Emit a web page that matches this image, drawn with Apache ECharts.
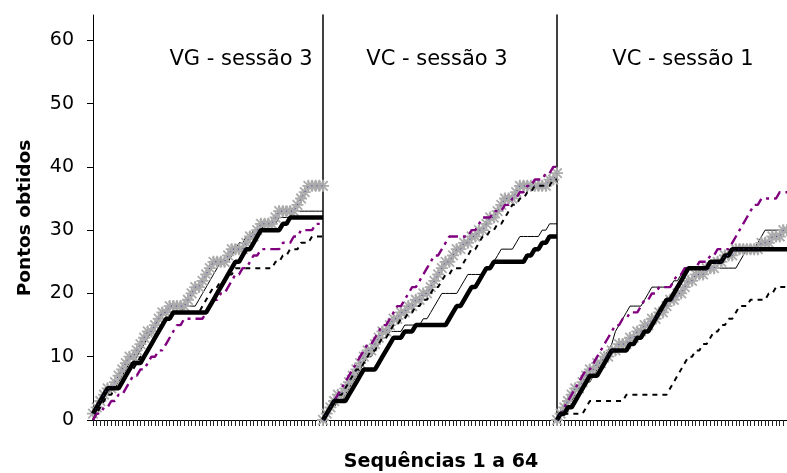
<!DOCTYPE html>
<html><head><meta charset="utf-8">
<script src="https://cdn.jsdelivr.net/npm/echarts@6/dist/echarts.min.js"></script>
<style>html,body{margin:0;padding:0;background:#fff}#c{width:787px;height:473px}</style>
</head><body><div id="c"></div>
<script>
const sequences = [1,2,3,4,5,6,7,8,9,10,11,12,13,14,15,16,17,18,19,20,21,22,23,24,25,26,27,28,29,30,31,32,
  33,34,35,36,37,38,39,40,41,42,43,44,45,46,47,48,49,50,51,52,53,54,55,56,57,58,59,60,61,62,63,64];
const yTicks = [0,10,20,30,40,50,60];
const yMax = 64;
const panelTitles = ['VG - sessão 3', 'VC - sessão 3', 'VC - sessão 1'];
const xTitle = 'Sequências 1 a 64';
const yTitle = 'Pontos obtidos';

// Panel 1: VG - sessão 3
const p1Gray   = [1,2,3,4,5,5,6,7,8,9, 10,10,11,12,13,14,14,15,16,17, 17,18,18,18,18,18,19,20,21,21, 22,23,24,25,25,25,25,26,27,27, 27,27,28,29,29,30,31,31,31,31, 32,33,33,33,33,33,34,35,36,37, 37,37,37,37];
const p1Thick  = [1,2,3,4,5,5,5,5,6,7, 8,9,9,9,10,11,12,13,14,15, 16,16,17,17,17,17,17,17,17,17, 17,17,18,19,20,21,22,23,24,25, 25,26,27,27,28,29,30,30,30,30, 30,30,31,31,32,32,32,32,32,32, 32,32,32,32];
const p1Thin   = [1,2,3,4,4,5,5,6,7,8, 9,9,10,11,12,13,14,15,16,17, 17,17,17,17,17,18,18,18,18,19, 20,21,22,23,24,25,25,25,26,27, 28,28,29,29,30,30,30,31,31,31, 31,32,32,32,32,33,33,33,33,33, 33,33,33,33];
const p1Purple = [0,1,1,2,2,3,3,4,4,5, 6,7,7,8,8,9,10,10,11,11, 12,13,14,15,15,16,16,16,16,16, 16,17,18,19,19,20,20,21,22,23, 23,24,24,25,26,26,27,27,27,27, 27,27,28,28,28,29,29,30,30,30, 30,31,31,31];
const p1Dashed = [0,1,2,3,4,4,5,5,6,7, 8,8,9,10,10,11,12,13,14,15, 16,16,17,17,17,17,17,17,17,17, 18,19,20,21,21,22,22,23,23,24, 24,24,24,24,24,24,24,24,24,24, 25,25,26,26,27,27,27,28,28,28, 29,29,29,29];

// Panel 2: VC - sessão 3
const p2Gray   = [0,1,2,3,4,4,5,6,7,8, 9,10,11,11,12,13,14,14,15,16, 16,17,17,18,18,19,19,20,20,21, 22,23,24,25,25,26,27,27,28,28, 29,29,30,30,31,32,32,33,34,35, 35,35,36,37,37,37,37,37,37,37, 37,38,38,39];
const p2Thick  = [0,1,2,3,3,3,3,4,5,6, 7,8,8,8,8,9,10,11,12,13, 13,13,14,14,14,15,15,15,15,15, 15,15,15,15,16,17,18,18,19,20, 21,21,22,23,24,24,25,25,25,25, 25,25,25,25,25,26,26,27,27,28, 28,29,29,29];
const p2Thin   = [0,1,2,2,3,3,4,5,6,7, 8,9,10,10,11,12,13,13,14,14, 14,14,15,15,15,15,15,16,16,17, 18,19,20,20,20,20,20,21,22,23, 23,23,23,23,24,24,25,26,27,27, 27,27,28,29,29,29,29,29,29,30, 30,31,31,31];
const p2Purple = [0,1,2,3,4,5,6,7,8,9, 10,11,12,12,13,14,15,15,16,17, 18,18,19,20,21,21,22,23,24,25, 26,26,27,28,29,29,29,29,29,29, 30,30,31,32,32,32,33,33,33,34, 34,35,35,36,36,37,37,38,38,38, 39,39,40,40];
const p2Dashed = [0,1,2,3,4,4,5,6,7,8, 8,9,10,11,11,12,13,13,14,15, 15,16,16,17,17,18,18,19,19,20, 21,21,22,23,23,24,24,24,25,26, 27,27,28,29,29,30,30,31,31,32, 33,34,34,35,35,36,36,37,37,37, 37,37,38,38];

// Panel 3: VC - sessão 1
const p3Gray   = [0,1,2,3,4,5,5,6,7,8, 8,9,9,10,10,11,11,12,12,12, 13,13,14,14,15,15,16,16,17,17, 18,19,19,20,20,21,22,22,23,23, 23,24,24,24,25,25,26,26,26,27, 27,27,27,27,27,27,28,28,28,29, 29,29,30,30];
const p3Thick  = [0,1,1,2,2,3,4,5,6,7, 7,7,8,9,10,11,11,11,11,11, 12,12,13,13,14,14,15,16,17,18, 19,19,20,21,22,23,24,24,24,24, 24,24,25,25,25,25,26,26,27,27, 27,27,27,27,27,27,27,27,27,27, 27,27,27,27];
const p3Thin   = [0,1,2,3,3,4,4,5,6,6, 7,8,9,10,11,12,14,15,16,17, 18,18,18,18,19,20,21,21,21,21, 21,21,22,22,23,23,24,24,24,24, 24,24,24,24,24,24,24,24,24,24, 25,26,27,27,27,28,29,30,30,30, 30,30,30,30];
const p3Purple = [0,1,2,3,4,5,6,7,8,8, 9,10,11,12,13,14,15,15,16,16, 17,17,17,18,19,19,20,20,21,21, 21,21,22,23,23,24,24,24,24,25, 25,25,26,26,27,27,27,27,28,29, 30,31,32,33,34,34,35,35,35,35, 35,36,36,36];
const p3Dashed = [0,1,1,1,1,1,1,1,2,3, 3,3,3,3,3,3,3,3,3,4, 4,4,4,4,4,4,4,4,4,4, 4,5,6,7,8,9,10,10,11,11, 12,12,13,14,14,15,15,16,16,17, 18,18,18,19,19,19,19,19,20,20, 21,21,21,21];

const panels = [
  {gray: p1Gray, thick: p1Thick, thin: p1Thin, purple: p1Purple, dashed: p1Dashed},
  {gray: p2Gray, thick: p2Thick, thin: p2Thin, purple: p2Purple, dashed: p2Dashed},
  {gray: p3Gray, thick: p3Thick, thin: p3Thin, purple: p3Purple, dashed: p3Dashed}
];

const FONT = 'DejaVu Sans';
const star = 'path://M8.5 0h3v20h-3z M0 8.5h20v3h-20z M1 3.1L3.1 1L19 16.9L16.9 19z M16.9 1L19 3.1L3.1 19L1 16.9z';

const gridDefs = [
  {left: 93, top: 15, width: 230, height: 405},
  {left: 323, top: 15, width: 234, height: 405},
  {left: 557, top: 15, width: 233, height: 405}
];

const xAxes = [], yAxes = [], series = [];
panels.forEach((p, k) => {
  xAxes.push({
    type: 'category', gridIndex: k, data: sequences, boundaryGap: false,
    axisLine: {show: true, lineStyle: {color: '#000', width: 1}},
    axisTick: {show: true, interval: 0, length: 6, inside: false, lineStyle: {color: '#222', width: 1}},
    axisLabel: {show: false}, splitLine: {show: false}
  });
  yAxes.push({
    type: 'value', gridIndex: k, min: 0, max: yMax,
    axisLine: {show: true, lineStyle: {color: '#000', width: k === 0 ? 1 : 1.5}},
    axisTick: {show: k === 0, length: 6, customValues: yTicks, lineStyle: {color: '#000'}},
    axisLabel: {show: k === 0, customValues: yTicks, margin: 19, color: '#000', fontFamily: FONT, fontSize: 19},
    splitLine: {show: false}
  });
  const base = {type: 'line', xAxisIndex: k, yAxisIndex: k, animation: false, silent: true};
  series.push(Object.assign({}, base, {
    name: 'thin', data: p.thin, symbol: 'none',
    lineStyle: {color: '#000', width: 1}, z: 2
  }));
  series.push(Object.assign({}, base, {
    name: 'gray', data: p.gray, symbol: star, symbolSize: 12, showSymbol: true, showAllSymbol: true,
    itemStyle: {color: '#ababab', opacity: 1}, lineStyle: {width: 0}, z: 3
  }));
  series.push(Object.assign({}, base, {
    name: 'dashed', data: p.dashed, symbol: 'none',
    lineStyle: {color: '#000', width: 2, type: [5, 5]}, z: 4
  }));
  series.push(Object.assign({}, base, {
    name: 'purple', data: p.purple, symbol: 'none',
    lineStyle: {color: '#800080', width: 2.4, type: [10, 5, 3, 5]}, z: 4
  }));
  series.push(Object.assign({}, base, {
    name: 'thick', data: p.thick, symbol: 'none',
    lineStyle: {color: '#000', width: 4.5}, z: 5
  }));
  series.push(Object.assign({}, base, {
    name: 'grayline', data: p.gray, symbol: 'none',
    lineStyle: {color: '#3a3aa0', width: 1, type: [1, 4]}, z: 6
  }));
});

const titleCenters = [241, 437, 683];
const graphics = panelTitles.map((t, k) => ({
  type: 'text', x: titleCenters[k], y: 60,
  style: {text: t, font: '21px "' + FONT + '"', fill: '#000', textAlign: 'center', textVerticalAlign: 'middle'}
}));
graphics.push({
  type: 'text', x: 441, y: 462,
  style: {text: xTitle, font: 'bold 19px "' + FONT + '"', fill: '#000', textAlign: 'center', textVerticalAlign: 'middle'}
});
graphics.push({
  type: 'text', x: 25, y: 218, rotation: Math.PI / 2,
  style: {text: yTitle, font: 'bold 18.5px "' + FONT + '"', fill: '#000', textAlign: 'center', textVerticalAlign: 'middle'}
});

const chart = echarts.init(document.getElementById('c'), null, {renderer: 'canvas'});
chart.setOption({
  animation: false,
  backgroundColor: '#fff',
  grid: gridDefs,
  xAxis: xAxes,
  yAxis: yAxes,
  series: series,
  graphic: graphics
});
</script></body></html>
